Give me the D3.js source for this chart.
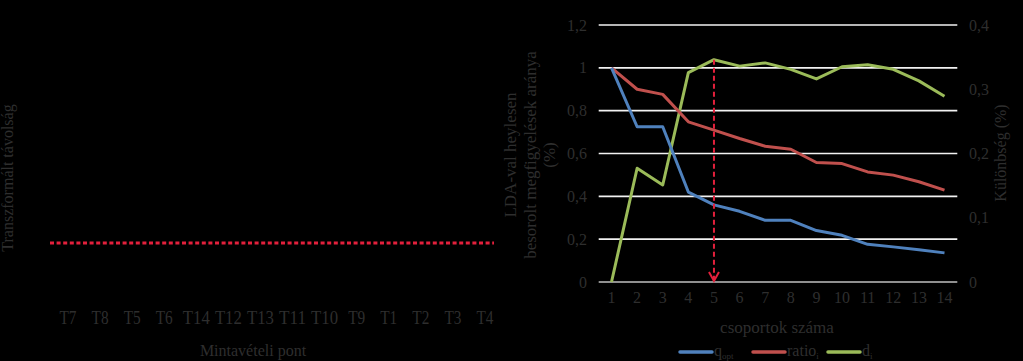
<!DOCTYPE html>
<html><head><meta charset="utf-8">
<script src="https://cdn.jsdelivr.net/npm/d3@7"></script>
<style>
html,body{margin:0;padding:0;background:#000;}
svg{display:block;}
text{font-family:"Liberation Serif","Times New Roman",serif;fill:#2e2e2e;}
</style></head><body>
<svg id="c" width="1023" height="361"></svg>
<script>
// Left panel (dendrogram) labels
const samplePoints = ["T7","T8","T5","T6","T14","T12","T13","T11","T10","T9","T1","T2","T3","T4"];
const cutLevel = [0.3]; // relative height of red dashed cut line (fraction of plot)

// Right panel data
const groups = [1,2,3,4,5,6,7,8,9,10,11,12,13,14];
const qOpt  = [1.0,0.725,0.725,0.42,0.36,0.33,0.288,0.288,0.24,0.218,0.176,0.164,0.151,0.136];
const ratio = [1.0,0.90,0.876,0.748,0.709,0.67,0.634,0.62,0.558,0.553,0.514,0.499,0.468,0.429];
const diff  = [0.0,0.177,0.151,0.326,0.346,0.336,0.341,0.331,0.316,0.335,0.338,0.331,0.313,0.289];
const leftTicks  = [0,0.2,0.4,0.6,0.8,1,1.2];
const rightTicks = [0,0.1,0.2,0.3,0.4];
const chosenGroup = [5];

const svg = d3.select("#c");
const fmt = d => String(d).replace(".", ",");

// ---------- Left panel ----------
const lx = d3.scalePoint().domain(samplePoints).range([68, 485]);
const ly = d3.scaleLinear().domain([0,1]).range([300, 110]);
svg.append("line")
  .attr("x1", 50).attr("x2", 494)
  .attr("y1", ly(cutLevel[0])).attr("y2", ly(cutLevel[0]))
  .attr("stroke", "#e3203c").attr("stroke-width", 3)
  .attr("stroke-dasharray", "4,2.6");
svg.append("g").selectAll("text").data(samplePoints).join("text")
  .attr("x", d => lx(d)).attr("y", 324)
  .attr("text-anchor", "middle").attr("font-size", 18)
  .attr("textLength", d => d.length > 2 ? 27 : 17).attr("lengthAdjust","spacingAndGlyphs")
  .text(d => d);
svg.append("text").attr("x", 253).attr("y", 356).attr("text-anchor","middle")
  .attr("font-size", 16).text("Mintavételi pont");
svg.append("text").attr("transform","translate(13,178) rotate(-90)")
  .attr("text-anchor","middle").attr("font-size",16).text("Transzformált távolság");

// ---------- Right panel ----------
const x = d3.scaleBand().domain(groups).range([598.7, 957.3]);
const xc = d => x(d) + x.bandwidth()/2;
const y = d3.scaleLinear().domain([0,1.2]).range([282, 25]);
const y2 = d3.scaleLinear().domain([0,0.4]).range([282, 25]);

// gridlines
svg.append("g").selectAll("line").data(leftTicks).join("line")
  .attr("x1", 598.7).attr("x2", 957.3)
  .attr("y1", d => y(d)).attr("y2", d => y(d))
  .attr("stroke", d => d === 0 ? "#bfbfbf" : "#f2f2f2").attr("stroke-width", 1.6);

// left axis tick labels
const yAxis = d3.axisLeft(y).tickValues(leftTicks).tickFormat(fmt).tickSize(0).tickPadding(0);
const gy = svg.append("g").attr("transform","translate(587,0)").call(yAxis);
gy.select(".domain").remove();
gy.selectAll("text").attr("font-size",16).attr("fill","#2e2e2e")
  .style("font-family",'"Liberation Serif",serif');

// right axis tick labels
const y2Axis = d3.axisRight(y2).tickValues(rightTicks).tickFormat(fmt).tickSize(0).tickPadding(0);
const gy2 = svg.append("g").attr("transform","translate(969,0)").call(y2Axis);
gy2.select(".domain").remove();
gy2.selectAll("text").attr("font-size",16).attr("fill","#2e2e2e")
  .style("font-family",'"Liberation Serif",serif');

// x tick labels
const xAxis = d3.axisBottom(x).tickSize(0).tickPadding(0);
const gx = svg.append("g").attr("transform","translate(0,292)").call(xAxis);
gx.select(".domain").remove();
gx.selectAll("text").attr("font-size",16).attr("fill","#2e2e2e")
  .style("font-family",'"Liberation Serif",serif');

// series lines
const line1 = d3.line().x((d,i) => xc(groups[i])).y(d => y(d));
const line2 = d3.line().x((d,i) => xc(groups[i])).y(d => y2(d));
svg.append("path").datum(diff).attr("d", line2)
  .attr("fill","none").attr("stroke","#9bbb59").attr("stroke-width",3).attr("stroke-linejoin","round");
svg.append("path").datum(ratio).attr("d", line1)
  .attr("fill","none").attr("stroke","#c0504d").attr("stroke-width",3).attr("stroke-linejoin","round");
svg.append("path").datum(qOpt).attr("d", line1)
  .attr("fill","none").attr("stroke","#4f81bd").attr("stroke-width",3).attr("stroke-linejoin","round");

// arrow at chosen group
const ax = xc(chosenGroup[0]);
const ayTop = y2(diff[groups.indexOf(chosenGroup[0])]);
svg.append("line").attr("x1", ax).attr("x2", ax).attr("y1", ayTop).attr("y2", y(0)-1)
  .attr("stroke","#e3203c").attr("stroke-width",2).attr("stroke-dasharray","5,3");
svg.append("path")
  .attr("d", `M${ax-5},${y(0)-10} L${ax},${y(0)-1} L${ax+5},${y(0)-10}`)
  .attr("fill","none").attr("stroke","#e3203c").attr("stroke-width",2);

// axis titles
svg.append("text").attr("x", 777).attr("y", 333).attr("text-anchor","middle")
  .attr("font-size",17).text("csoportok száma");
const lt = svg.append("text").attr("transform","translate(530,155) rotate(-90)")
  .attr("text-anchor","middle").attr("font-size",17);
lt.append("tspan").attr("x",0).attr("dy",-14).text("LDA-val heylesen");
lt.append("tspan").attr("x",0).attr("dy",19.5).text("besorolt megfigyelések aránya");
lt.append("tspan").attr("x",0).attr("dy",19.5).text("(%)");
svg.append("text").attr("transform","translate(1006,153) rotate(-90)")
  .attr("text-anchor","middle").attr("font-size",16).text("Különbség (%)");

// legend
const legend = [
  {name:"q", sub:"opt", color:"#4f81bd", x:680},
  {name:"ratio", sub:"i", color:"#c0504d", x:753},
  {name:"d", sub:"i", color:"#9bbb59", x:828}
];
const lg = svg.append("g").selectAll("g").data(legend).join("g");
lg.append("line").attr("x1", d => d.x).attr("x2", d => d.x + 32)
  .attr("y1", 352).attr("y2", 352).attr("stroke", d => d.color).attr("stroke-width", 3.5)
  .attr("stroke-linecap","round");
const lt2 = lg.append("text").attr("x", d => d.x + 34).attr("y", 356).attr("font-size", 16);
lt2.append("tspan").text(d => d.name);
lt2.append("tspan").attr("font-size", 9).attr("dy", 3).text(d => d.sub);
</script>
</body></html>
